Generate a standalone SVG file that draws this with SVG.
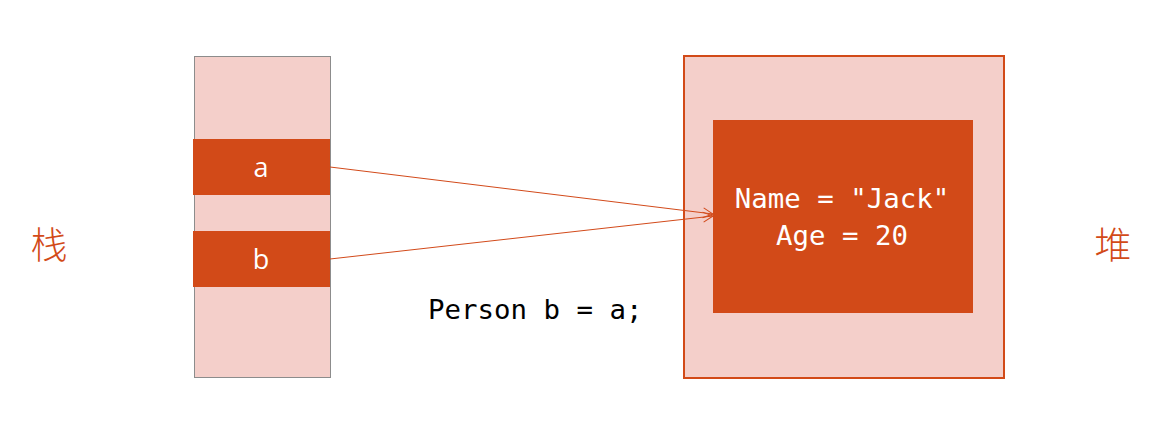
<svg xmlns="http://www.w3.org/2000/svg" width="1176" height="445" viewBox="0 0 1176 445">
<defs>
<marker id="arr" viewBox="0 0 12 12" refX="11" refY="6" markerWidth="12" markerHeight="12" markerUnits="userSpaceOnUse" orient="auto">
<path d="M1,1 L11,6 L1,11" fill="none" stroke="#D24A1A" stroke-width="1"/>
</marker>
<style>
.org{fill:#D24A18}
.pink{fill:#F4CFCA}
.mono{font-family:"DejaVu Sans Mono","Liberation Mono",monospace;font-size:27.4px}
.lbl{font-family:"Open Sans","Liberation Sans",sans-serif;font-size:27px;fill:#fff;text-anchor:middle}
.cjk{font-family:"Noto Sans CJK SC",sans-serif;font-size:37px;font-weight:300;fill:#D24A18;text-anchor:middle}
.conn{stroke:#D24A1A;stroke-width:1;fill:none}
</style>
</defs>
<rect width="1176" height="445" fill="#fff"/>
<g id="stack">
<rect x="194.5" y="56.5" width="136" height="321" class="pink" stroke="#8C8C8C" stroke-width="1"/>
</g>
<g id="var-a">
<rect x="193" y="139" width="137" height="56" class="org"/>
<text x="261" y="177" class="lbl">a</text>
</g>
<g id="var-b">
<rect x="193" y="231" width="137" height="56" class="org"/>
<text x="261" y="269" class="lbl">b</text>
</g>
<g id="heap">
<rect x="684" y="56" width="320" height="322" class="pink" stroke="#D24A18" stroke-width="2"/>
</g>
<g id="object">
<rect x="713" y="120" width="260" height="193" class="org"/>
<text x="842" y="208" class="mono" fill="#fff" text-anchor="middle">Name = "Jack"</text>
<text x="842" y="245" class="mono" fill="#fff" text-anchor="middle">Age = 20</text>
</g>
<g id="label-stack"><text x="49" y="259" class="cjk">栈</text></g>
<g id="label-heap"><text x="1113" y="259" class="cjk">堆</text></g>
<g id="code"><text x="428" y="319" class="mono" fill="#000">Person b = a;</text></g>
<g id="connectors">
<line x1="330" y1="167" x2="713" y2="214" class="conn" marker-end="url(#arr)"/>
<line x1="330" y1="259" x2="713" y2="216" class="conn" marker-end="url(#arr)"/>
</g>
</svg>
